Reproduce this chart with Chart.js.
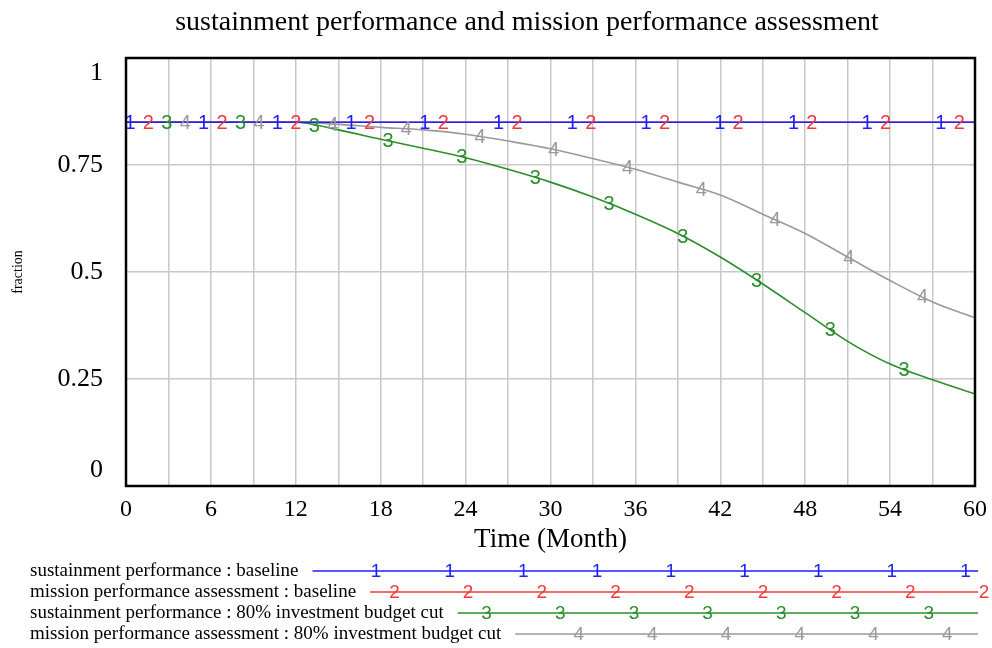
<!DOCTYPE html>
<html>
<head>
<meta charset="utf-8">
<script src="https://cdn.jsdelivr.net/npm/chart.js@4.4.1/dist/chart.umd.min.js"></script>
<style>
  html, body { margin: 0; padding: 0; background: #fff; }
  #wrap { width: 992px; height: 648px; }
</style>
</head>
<body>
<div id="wrap"><canvas id="chart" width="992" height="648"></canvas></div>
<script>
// time axis (months) and the four runs
var months = [0, 3, 6, 9, 12, 15, 18, 21, 24, 27, 30, 33, 36, 39, 42, 45, 48, 51, 54, 57, 60];
var sustainBaseline = [0.85, 0.85, 0.85, 0.85, 0.85, 0.85, 0.85, 0.85, 0.85, 0.85, 0.85, 0.85, 0.85, 0.85, 0.85, 0.85, 0.85, 0.85, 0.85, 0.85, 0.85];
var missionBaseline = [0.85, 0.85, 0.85, 0.85, 0.85, 0.85, 0.85, 0.85, 0.85, 0.85, 0.85, 0.85, 0.85, 0.85, 0.85, 0.85, 0.85, 0.85, 0.85, 0.85, 0.85];
var sustainCut = [0.85, 0.85, 0.85, 0.85, 0.85, 0.832, 0.81, 0.789, 0.767, 0.74, 0.71, 0.675, 0.635, 0.59, 0.535, 0.472, 0.405, 0.338, 0.285, 0.248, 0.215];
var missionCut = [0.85, 0.85, 0.85, 0.85, 0.85, 0.845, 0.838, 0.832, 0.822, 0.806, 0.788, 0.765, 0.74, 0.71, 0.68, 0.635, 0.59, 0.535, 0.48, 0.43, 0.393];

var seriesNames = [
  "sustainment performance : baseline",
  "mission performance assessment : baseline",
  "sustainment performance : 80% investment budget cut",
  "mission performance assessment : 80% investment budget cut"
];
var seriesMarks = ["1", "2", "3", "4"];
var seriesColors = ["#1f1fff", "#f03a3a", "#2a8f2a", "#9a9a9a"];

var titleText = "sustainment performance and mission performance assessment";
var xTitle = "Time (Month)";
var yTitle = "fraction";
var xTickLabels = [0, 6, 12, 18, 24, 30, 36, 42, 48, 54, 60];
var yTicks = [0, 0.25, 0.5, 0.75, 1];
var yTickLabels = ["0", "0.25", "0.5", "0.75", "1"];

var serif = "'Liberation Serif', 'Times New Roman', serif";
var sans = "'Liberation Sans', Arial, sans-serif";

function toPoints(vals) {
  return vals.map(function (v, i) { return { x: months[i], y: v }; });
}

function valueAt(vals, m) {
  for (var i = 0; i < months.length - 1; i++) {
    if (m >= months[i] && m <= months[i + 1]) {
      var t = (m - months[i]) / (months[i + 1] - months[i]);
      return vals[i] + t * (vals[i + 1] - vals[i]);
    }
  }
  return vals[vals.length - 1];
}

var allSeries = [sustainBaseline, missionBaseline, sustainCut, missionCut];

// vensim style decorations: numbered markers, frame, title, y labels, legend
var vensimPlugin = {
  id: "vensim",
  afterDatasetsDraw: function (chart) {
    var ctx = chart.ctx;
    var xs = chart.scales.x, ys = chart.scales.y;
    var period = 5.21;
    ctx.save();
    ctx.font = "20px " + sans;
    ctx.textAlign = "center";
    ctx.textBaseline = "middle";
    for (var s = allSeries.length - 1; s >= 0; s--) {
      ctx.fillStyle = seriesColors[s];
      for (var m = 0.28 + s * period / 4; m <= 60; m += period) {
        var v = valueAt(allSeries[s], m);
        ctx.fillText(seriesMarks[s], xs.getPixelForValue(m), ys.getPixelForValue(v) + 1);
      }
    }
    ctx.restore();
  },
  afterDraw: function (chart) {
    var ctx = chart.ctx;
    var a = chart.chartArea;
    var ys = chart.scales.y;
    ctx.save();

    // frame
    ctx.strokeStyle = "#000";
    ctx.lineWidth = 2.5;
    ctx.strokeRect(a.left, a.top, a.right - a.left, a.bottom - a.top);

    // title
    ctx.fillStyle = "#000";
    ctx.font = "28px " + serif;
    ctx.textAlign = "center";
    ctx.textBaseline = "middle";
    ctx.fillText(titleText, 527, 23);

    // y tick labels (end labels sit inside the frame like the original)
    ctx.font = "26px " + serif;
    ctx.textAlign = "right";
    yTicks.forEach(function (v, i) {
      var py = ys.getPixelForValue(v);
      if (v === 1) py += 15;
      if (v === 0) py -= 16;
      ctx.fillText(yTickLabels[i], 103, py);
    });

    // legend
    var rows = [571, 592, 613, 634];
    var period = 73.7;
    ctx.font = "19px " + serif;
    ctx.textAlign = "left";
    for (var s = 0; s < seriesNames.length; s++) {
      var y = rows[s];
      ctx.fillStyle = "#000";
      ctx.fillText(seriesNames[s], 30, y);
      var start = 30 + ctx.measureText(seriesNames[s]).width + 14;
      ctx.strokeStyle = seriesColors[s];
      ctx.lineWidth = 1.5;
      ctx.beginPath();
      ctx.moveTo(start, y);
      ctx.lineTo(978, y);
      ctx.stroke();
      ctx.save();
      ctx.font = "19px " + sans;
      ctx.textAlign = "center";
      ctx.fillStyle = seriesColors[s];
      for (var x = 376 + s * period / 4 - period * 3; x < 990; x += period) {
        if (x > start + 16) ctx.fillText(seriesMarks[s], x, y + 1);
      }
      ctx.restore();
    }
    ctx.restore();
  }
};

var datasets = allSeries.map(function (vals, i) {
  return {
    label: seriesNames[i],
    data: toPoints(vals),
    borderColor: seriesColors[i],
    backgroundColor: seriesColors[i],
    borderWidth: 1.6,
    pointRadius: 0,
    cubicInterpolationMode: "monotone",
    fill: false
  };
});

var ctx = document.getElementById("chart").getContext("2d");
var myChart = new Chart(ctx, {
  type: "line",
  data: { datasets: datasets },
  options: {
    responsive: false,
    animation: false,
    devicePixelRatio: 1,
    layout: { padding: { top: 58, right: 17, bottom: 92, left: 0 } },
    scales: {
      x: {
        type: "linear",
        min: 0,
        max: 60,
        border: { display: false },
        grid: { color: "#c8c8c8", lineWidth: 1.5, drawTicks: false },
        ticks: {
          stepSize: 3,
          padding: 9,
          color: "#000",
          font: { family: serif, size: 24 },
          maxRotation: 0,
          autoSkip: false,
          callback: function (v) { return xTickLabels.indexOf(v) >= 0 ? String(v) : ""; }
        },
        title: {
          display: true,
          text: xTitle,
          color: "#000",
          font: { family: serif, size: 27 },
          padding: { top: 0, bottom: 0 }
        },
        afterFit: function (scale) {
          scale.height = 70;
          scale.paddingLeft = 0;
          scale.paddingRight = 0;
        }
      },
      y: {
        min: 0,
        max: 1,
        border: { display: false },
        grid: { color: "#c8c8c8", lineWidth: 1.5, drawTicks: false },
        ticks: { stepSize: 0.25, display: false },
        title: {
          display: true,
          text: yTitle,
          color: "#000",
          font: { family: serif, size: 14 },
          padding: { top: 10, bottom: 0 }
        },
        afterFit: function (scale) { scale.width = 126; }
      }
    },
    plugins: {
      legend: { display: false },
      title: { display: false },
      tooltip: { enabled: false }
    }
  },
  plugins: [vensimPlugin]
});
</script>
</body>
</html>
